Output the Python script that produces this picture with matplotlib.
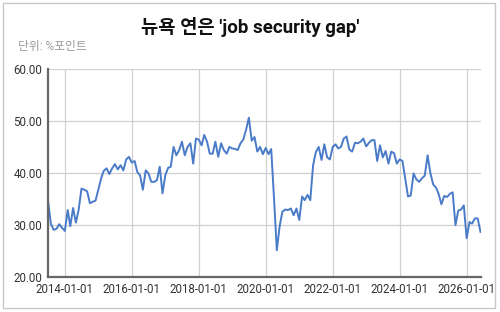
import numpy as np
import pandas as pd
import matplotlib
matplotlib.use("Agg")
import matplotlib.pyplot as plt
import matplotlib.dates as mdates
from matplotlib.patches import Rectangle

plt.rcParams['font.family'] = ['Roboto', 'Noto Sans CJK KR', 'DejaVu Sans']

# monthly series, 2013-07 .. 2026-06
start_month = "2013-07-01"
gap = [
    34.8, 30.3, 29.1, 29.3, 30.2, 29.5, 28.9, 32.9, 29.8, 33.3, 30.5, 33.0,
    37.0, 36.8, 36.5, 34.2, 34.5, 34.7, 36.8, 39.0, 40.4, 40.9, 39.8, 40.9,
    41.7, 40.7, 41.5, 40.5, 42.6, 43.1, 42.0, 42.3, 40.2, 39.5, 36.8, 40.5,
    39.9, 38.3, 38.3, 38.6, 41.2, 36.1, 39.6, 41.0, 41.2, 45.0, 43.4, 44.4,
    46.0, 43.4, 45.0, 45.7, 41.8, 46.6, 46.4, 45.3, 47.3, 46.0, 43.7, 43.7,
    46.0, 43.1, 45.7, 44.4, 43.7, 45.0, 44.7, 44.6, 44.4, 45.7, 46.4, 48.3,
    50.6, 46.2, 46.9, 44.1, 45.0, 43.6, 44.8, 43.6, 44.6, 35.0, 25.2, 29.8,
    32.6, 33.0, 32.9, 33.2, 31.9, 33.2, 31.0, 35.5, 34.8, 35.8, 34.8, 41.5,
    44.0, 45.0, 42.5, 45.5, 43.0, 42.6, 45.0, 45.5, 44.7, 45.0, 46.6, 47.0,
    44.5, 44.1, 45.8, 45.7, 46.0, 46.6, 45.1, 45.8, 46.3, 46.3, 42.3, 45.3,
    43.0, 44.2, 41.8, 44.1, 43.8, 41.8, 42.6, 42.3, 39.0, 35.5, 35.7, 39.9,
    38.8, 38.3, 39.0, 39.5, 43.4, 40.0, 37.8, 37.2, 36.0, 34.0, 35.6, 35.4,
    36.0, 36.3, 30.0, 32.8, 33.0, 33.8, 27.5, 30.6, 30.3, 31.3, 31.3, 28.7,
]
dates = pd.date_range(start_month, periods=len(gap), freq="MS")

y_ticks = [20, 30, 40, 50, 60]
x_ticks = pd.to_datetime(["2014-01-01", "2016-01-01", "2018-01-01", "2020-01-01",
                          "2022-01-01", "2024-01-01", "2026-01-01"])

fig = plt.figure(figsize=(5, 3.12), dpi=100)
fig.patch.set_facecolor("white")
# card border
fig.add_artist(Rectangle((3 / 500, 4 / 312), 492 / 500, 305 / 312,
                         transform=fig.transFigure, fill=False,
                         edgecolor="#c8c8c8", linewidth=1.0))

ax = fig.add_axes([0.096, 0.111, 0.865, 0.669])
ax.plot(dates, gap, color="#4a7bc8", linewidth=1.4)

ax.set_ylim(20, 60)
ax.set_yticks(y_ticks)
ax.set_yticklabels([f"{v:.2f}" for v in y_ticks])
ax.set_xlim(dates[0], dates[-1])
ax.set_xticks(x_ticks)
ax.xaxis.set_major_formatter(mdates.DateFormatter("%Y-%m-%d"))

ax.grid(True, color="#d0d0d0", linewidth=0.9)
ax.set_axisbelow(True)
for s in ["top", "right"]:
    ax.spines[s].set_visible(False)
for s in ["left", "bottom"]:
    ax.spines[s].set_color("#666666")
    ax.spines[s].set_linewidth(1.6)
ax.tick_params(length=0, labelsize=8.3, colors="#333333", pad=4)

fig.text(0.5, 0.912, "뉴욕 연은 'job security gap'", ha="center", va="center",
         fontsize=13.5, fontweight="bold", color="#111111")
fig.text(0.036, 0.85, "단위: %포인트", ha="left", va="center",
         fontsize=8.5, color="#9a9a9a")

fig.savefig("out.png", dpi=100)
